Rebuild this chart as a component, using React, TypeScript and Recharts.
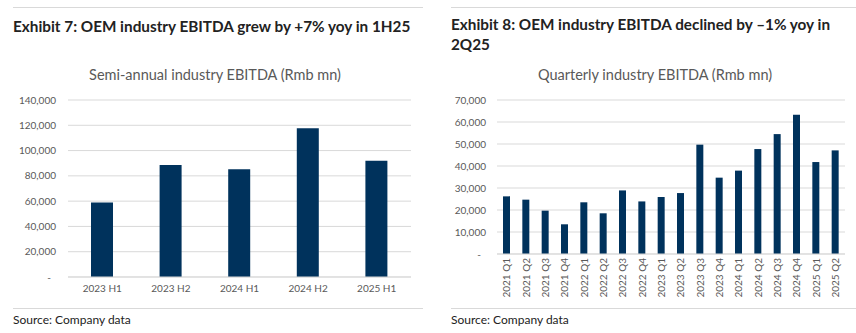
import { Bar, BarChart, CartesianGrid, XAxis, YAxis } from 'recharts'

const halfYears = ['2023 H1', '2023 H2', '2024 H1', '2024 H2', '2025 H1']
const halfYearEbitda = [59000, 88600, 85200, 117600, 92000]
const halfYearTicks = [0, 20000, 40000, 60000, 80000, 100000, 120000, 140000]

const quarters = [
  '2021 Q1', '2021 Q2', '2021 Q3', '2021 Q4',
  '2022 Q1', '2022 Q2', '2022 Q3', '2022 Q4',
  '2023 Q1', '2023 Q2', '2023 Q3', '2023 Q4',
  '2024 Q1', '2024 Q2', '2024 Q3', '2024 Q4',
  '2025 Q1', '2025 Q2',
]
const quarterEbitda = [
  26200, 24700, 19700, 13500,
  23500, 18500, 28900, 23900,
  25900, 27700, 49700, 34700,
  37900, 47700, 54500, 63300,
  41800, 47100,
]
const quarterTicks = [0, 10000, 20000, 30000, 40000, 50000, 60000, 70000]

const halfData = halfYears.map((period, i) => ({ period, value: halfYearEbitda[i] }))
const quarterData = quarters.map((period, i) => ({ period, value: quarterEbitda[i] }))

const FONT = 'Lato, "Noto Sans", sans-serif'
const BAR = '#00325c'
const GRID = '#d9d9d9'
const TICK = '#595959'

function YTick(props: { x?: number; y?: number; payload?: { value: number } }) {
  const { x = 0, y = 0, payload } = props
  const v = payload?.value ?? 0
  // excel accounting style: zero shows as a dash, nudged left
  return (
    <text
      x={v === 0 ? x - 5 : x}
      y={y}
      dy="0.35em"
      textAnchor="end"
      fill={TICK}
      fontSize={10}
      fontFamily={FONT}
    >
      {v === 0 ? '-' : v.toLocaleString('en-US')}
    </text>
  )
}

function RotatedTick(props: { x?: number; y?: number; payload?: { value: string } }) {
  const { x = 0, y = 0, payload } = props
  return (
    <text
      x={x}
      y={y}
      dy="0.35em"
      textAnchor="end"
      transform={`rotate(-90, ${x}, ${y})`}
      fill={TICK}
      fontSize={10}
      fontFamily={FONT}
    >
      {payload?.value}
    </text>
  )
}

const rule = (left: number, top: number, width: number) => (
  <div style={{ position: 'absolute', left, top, width, height: 1, background: GRID }} />
)

const headStyle: React.CSSProperties = {
  position: 'absolute',
  fontFamily: FONT,
  fontWeight: 700,
  fontSize: 15.3,
  lineHeight: '20px',
  color: '#222',
  whiteSpace: 'nowrap',
}

const chartTitleStyle: React.CSSProperties = {
  position: 'absolute',
  fontFamily: FONT,
  fontSize: 14.5,
  color: TICK,
  textAlign: 'center',
  whiteSpace: 'nowrap',
}

const sourceStyle: React.CSSProperties = {
  position: 'absolute',
  fontFamily: FONT,
  fontSize: 12,
  color: '#222',
  whiteSpace: 'nowrap',
}

export default function App() {
  return (
    <div
      style={{
        position: 'absolute',
        left: 0,
        top: 0,
        width: 856,
        height: 333,
        background: '#fff',
        overflow: 'hidden',
      }}
    >
      {/* left exhibit */}
      {rule(13, 7, 410)}
      <div style={{ ...headStyle, left: 13, top: 16 }}>
        Exhibit 7: OEM industry EBITDA grew by +7% yoy in 1H25
      </div>
      <div style={{ ...chartTitleStyle, left: 0, width: 430, top: 66 }}>
        Semi-annual industry EBITDA (Rmb mn)
      </div>
      <div style={{ position: 'absolute', left: 0, top: 90 }}>
        <BarChart
          width={430}
          height={215}
          data={halfData}
          margin={{ top: 10, right: 19, left: 0, bottom: 0 }}
        >
          <CartesianGrid stroke={GRID} vertical={false} />
          <XAxis
            dataKey="period"
            tick={{ fill: TICK, fontSize: 10, fontFamily: FONT }}
            axisLine={{ stroke: GRID }}
            tickLine={false}
            height={28}
          />
          <YAxis
            domain={[0, 140000]}
            ticks={halfYearTicks}
            interval={0}
            tick={<YTick />}
            axisLine={false}
            tickLine={false}
            tickMargin={6}
            width={68}
          />
          <Bar dataKey="value" fill={BAR} barSize={22} isAnimationActive={false} />
        </BarChart>
      </div>
      {rule(13, 308, 410)}
      <div style={{ ...sourceStyle, left: 13, top: 312 }}>Source: Company data</div>

      {/* right exhibit */}
      {rule(451, 7, 405)}
      <div style={{ ...headStyle, left: 451, top: 14 }}>
        Exhibit 8: OEM industry EBITDA declined by –1% yoy in
        <br />
        2Q25
      </div>
      <div style={{ ...chartTitleStyle, left: 430, width: 450, top: 66 }}>
        Quarterly industry EBITDA (Rmb mn)
      </div>
      <div style={{ position: 'absolute', left: 430, top: 90 }}>
        <BarChart
          width={426}
          height={215}
          data={quarterData}
          margin={{ top: 10, right: 11, left: 0, bottom: 0 }}
        >
          <CartesianGrid stroke={GRID} vertical={false} />
          <XAxis
            dataKey="period"
            tick={<RotatedTick />}
            interval={0}
            axisLine={{ stroke: GRID }}
            tickLine={false}
            tickSize={0}
            tickMargin={4}
            height={51}
          />
          <YAxis
            domain={[0, 70000]}
            ticks={quarterTicks}
            interval={0}
            tick={<YTick />}
            axisLine={false}
            tickLine={false}
            tickMargin={5}
            width={67}
          />
          <Bar dataKey="value" fill={BAR} barSize={7} isAnimationActive={false} />
        </BarChart>
      </div>
      {rule(451, 308, 405)}
      <div style={{ ...sourceStyle, left: 451, top: 312 }}>Source: Company data</div>
    </div>
  )
}
